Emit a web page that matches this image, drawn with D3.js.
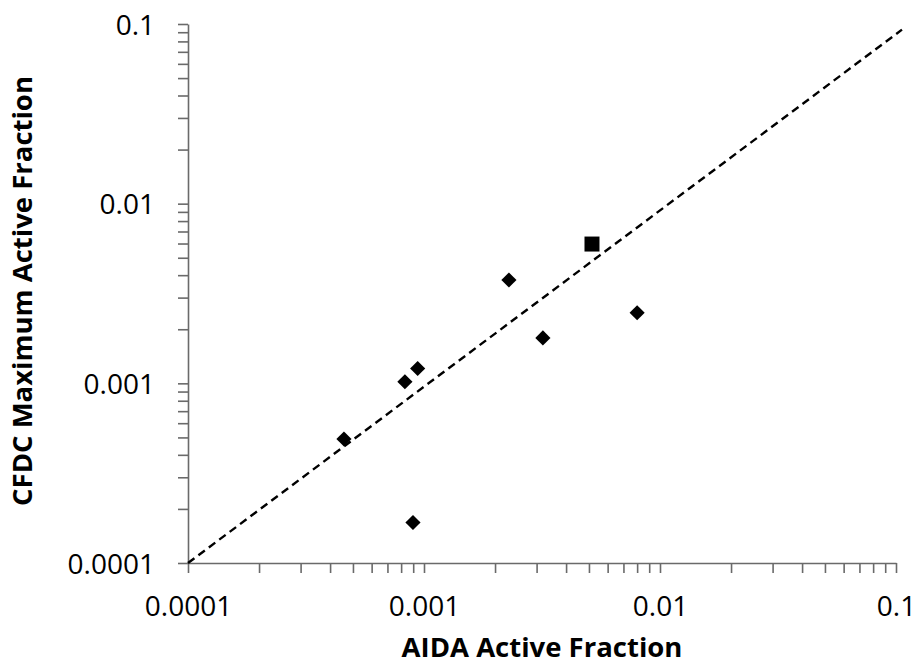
<!DOCTYPE html>
<html>
<head>
<meta charset="utf-8">
<script src="https://cdn.jsdelivr.net/npm/d3@7"></script>
<style>
  body { margin: 0; background: #fff; }
  svg text { font-family: "Open Sans", sans-serif; fill: #000; }
  .tick text { font-size: 28px; }
  .axis-title { font-size: 27.5px; font-weight: bold; }
</style>
</head>
<body>
<div id="chart"></div>
<script>
// AIDA vs CFDC active fractions
let aida = [0.000458, 0.00083, 0.00094, 0.00229, 0.00319, 0.0080, 0.000898];
let cfdc = [0.00049, 0.00102, 0.00121, 0.00376, 0.00179, 0.00247, 0.000168];
// the single square marker
let sqAida = [0.00515];
let sqCfdc = [0.00596];
// dashed reference line end points
let lineX = [0.0001, 0.106];
let lineY = [0.0001, 0.093];
let decadeLabels = ["0.0001", "0.001", "0.01", "0.1"];

let width = 918, height = 665;
let margin = {top: 24, right: 22, bottom: 102, left: 188};
let w = width - margin.left - margin.right,
    h = height - margin.top - margin.bottom;

let svg = d3.select("#chart")
  .append("svg")
  .attr("width", width)
  .attr("height", height);

let g = svg.append("g")
  .attr("transform", "translate(" + margin.left + "," + margin.top + ")");

let x = d3.scaleLog().domain([0.0001, 0.1]).range([0, w]);
let y = d3.scaleLog().domain([0.0001, 0.1]).range([h, 0]);

// major + minor tick values
let ticks = [];
[0.0001, 0.001, 0.01].forEach(function(d) {
  for (let k = 1; k < 10; k++) ticks.push(d * k);
});
ticks.push(0.1);

let majors = decadeLabels.map(Number);
let fmt = function(d) {
  let i = majors.findIndex(m => Math.abs(m - d) / m < 1e-6);
  return i >= 0 ? decadeLabels[i] : "";
};

let xAxis = g.append("g")
  .attr("transform", "translate(0," + h + ")")
  .call(d3.axisBottom(x).tickValues(ticks).tickFormat(fmt).tickSize(10).tickSizeOuter(0).tickPadding(23));

let yAxis = g.append("g")
  .call(d3.axisLeft(y).tickValues(ticks).tickFormat(fmt).tickSize(10).tickSizeOuter(0).tickPadding(23));

[xAxis, yAxis].forEach(function(a) {
  a.select(".domain").attr("stroke", "#6a6a6a").attr("stroke-width", 1.6);
  a.selectAll(".tick line").attr("stroke", "#6a6a6a").attr("stroke-width", 1.6);
  a.selectAll(".tick text").attr("fill", "#000");
});
yAxis.selectAll(".tick text").attr("dy", "0.36em");

// dashed line
let lineData = lineX.map((d, i) => [d, lineY[i]]);
g.append("path")
  .datum(lineData)
  .attr("d", d3.line().x(d => x(d[0])).y(d => y(d[1])))
  .attr("fill", "none")
  .attr("stroke", "#000")
  .attr("stroke-width", 2.4)
  .attr("stroke-dasharray", "8,5");

// diamonds
let pts = aida.map((d, i) => [d, cfdc[i]]);
g.selectAll(".diamond")
  .data(pts)
  .enter()
  .append("path")
  .attr("class", "diamond")
  .attr("d", d3.symbol().type(d3.symbolSquare).size(115))
  .attr("transform", d => "translate(" + x(d[0]) + "," + y(d[1]) + ") rotate(45)")
  .attr("fill", "#000");

// square
g.selectAll(".sq")
  .data(sqAida.map((d, i) => [d, sqCfdc[i]]))
  .enter()
  .append("path")
  .attr("class", "sq")
  .attr("d", d3.symbol().type(d3.symbolSquare).size(225))
  .attr("transform", d => "translate(" + x(d[0]) + "," + y(d[1]) + ")")
  .attr("fill", "#000");

// axis titles
svg.append("text")
  .attr("class", "axis-title")
  .attr("x", margin.left + w / 2)
  .attr("y", 657)
  .attr("text-anchor", "middle")
  .text("AIDA Active Fraction");

svg.append("text")
  .attr("class", "axis-title")
  .attr("transform", "translate(32,291) rotate(-90)")
  .attr("text-anchor", "middle")
  .text("CFDC Maximum Active Fraction");
</script>
</body>
</html>
